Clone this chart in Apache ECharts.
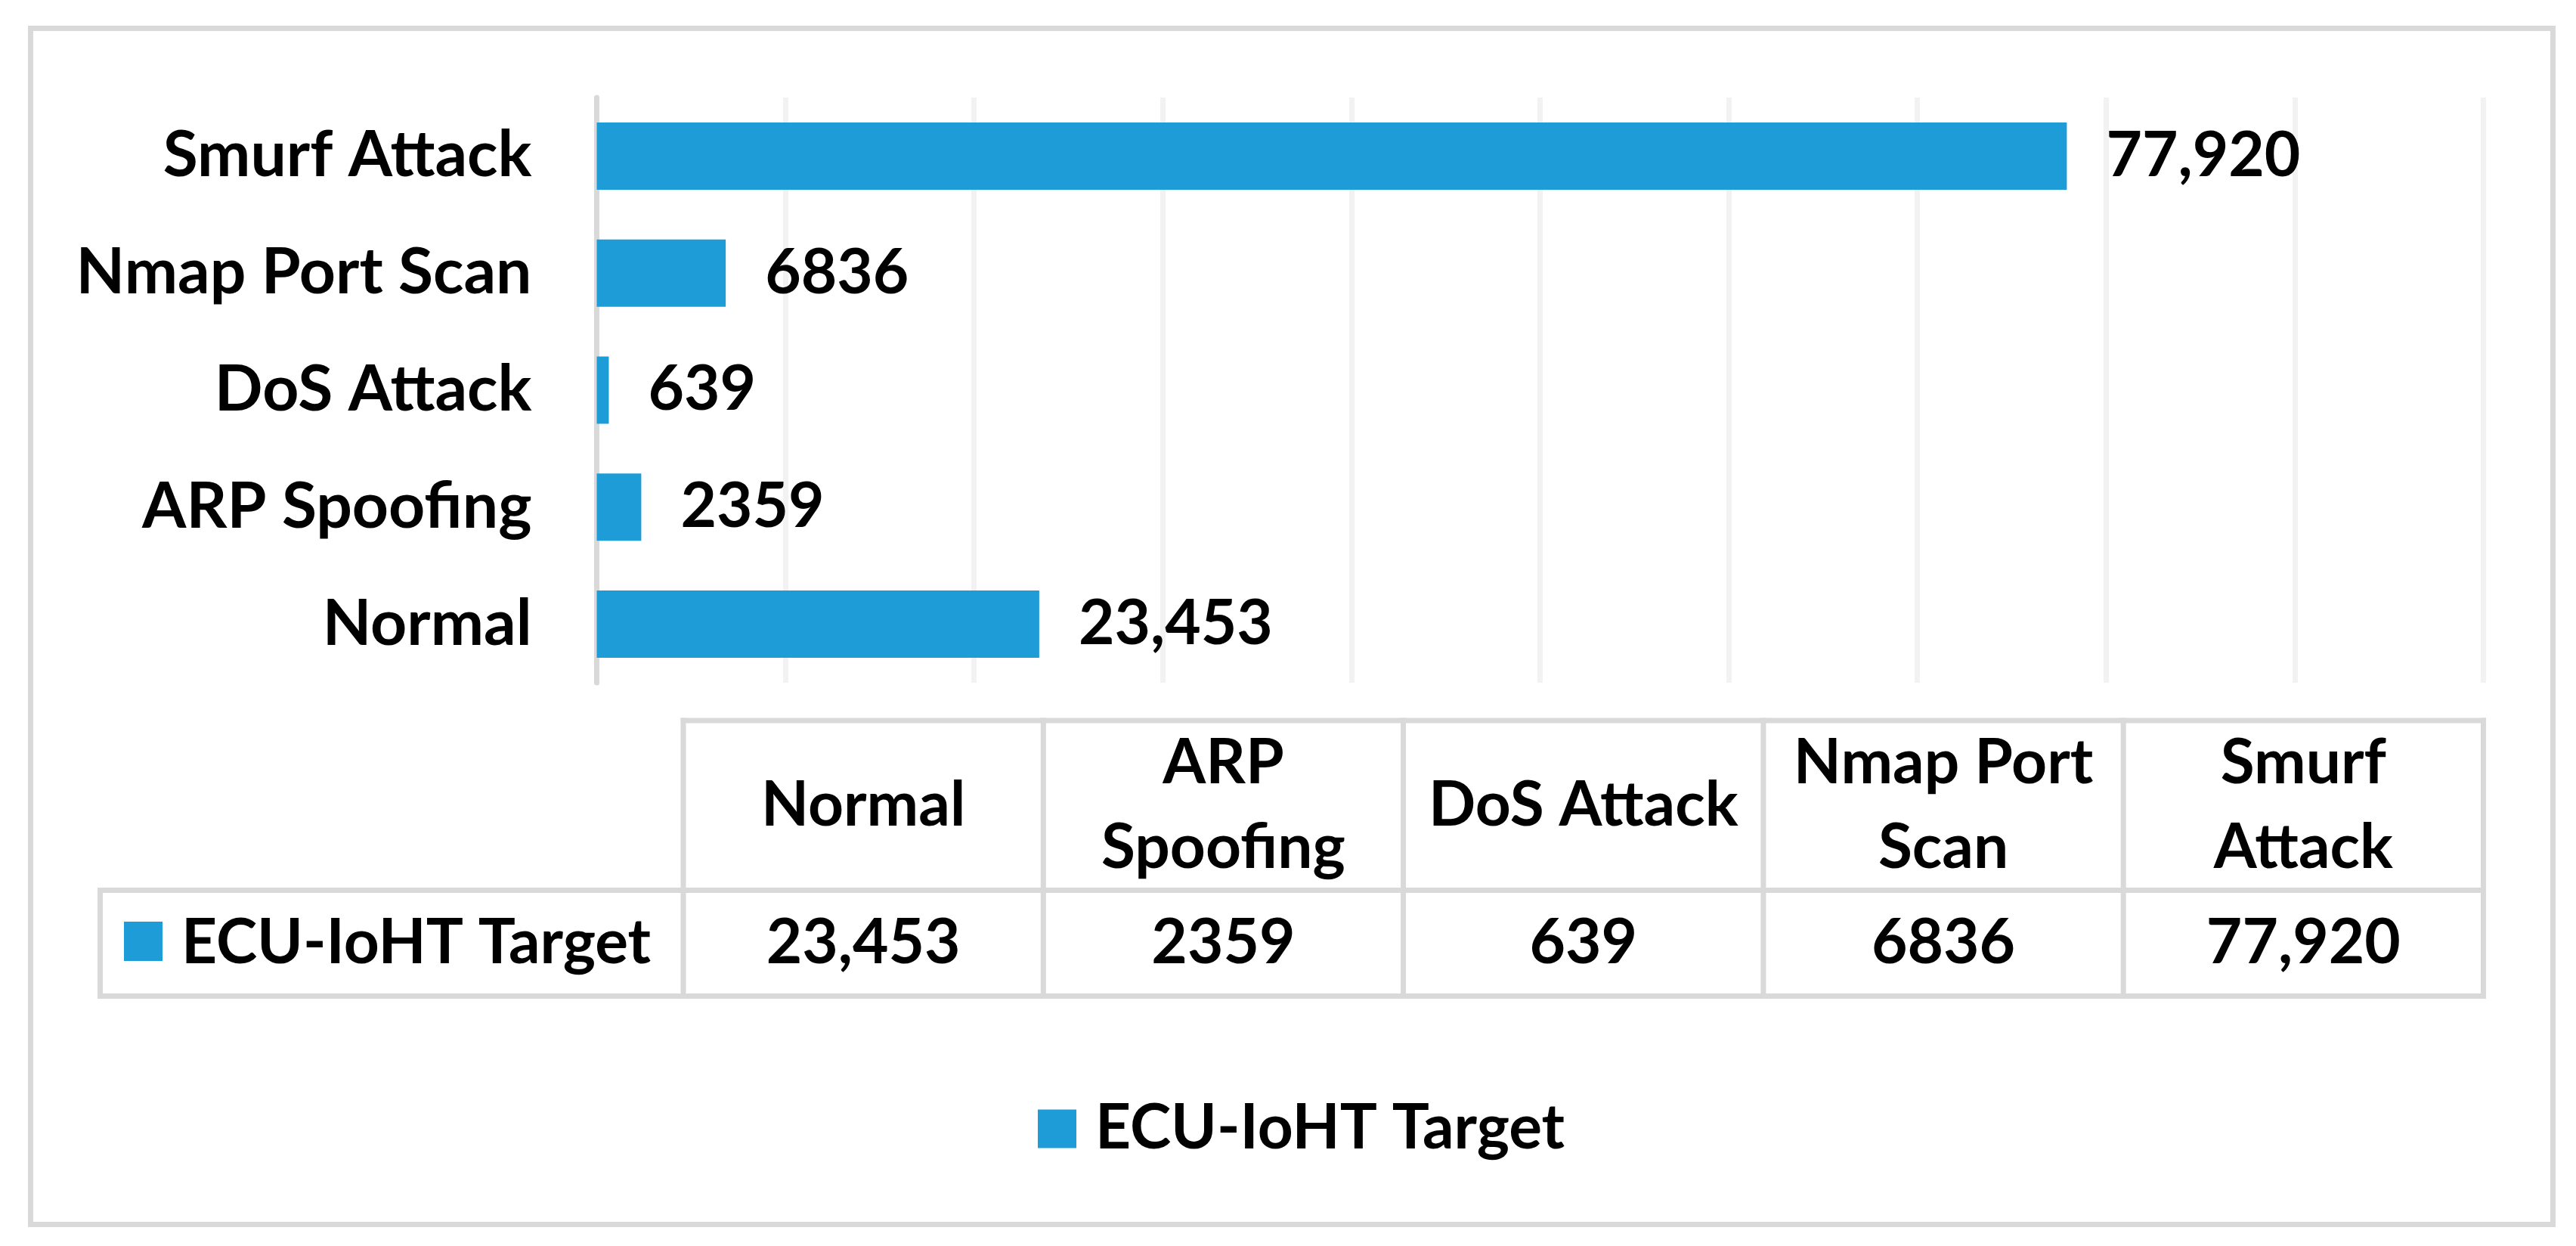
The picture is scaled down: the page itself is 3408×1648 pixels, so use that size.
<!DOCTYPE html>
<html>
<head>
<meta charset="utf-8">
<script src="https://cdn.jsdelivr.net/npm/echarts@6/dist/echarts.min.js"></script>
<style>
html,body{margin:0;padding:0;background:#fff;}
#main{width:3408px;height:1648px;}
</style>
</head>
<body>
<div id="main"></div>
<script>
// data
var categories = ['Normal', 'ARP Spoofing', 'DoS Attack', 'Nmap Port Scan', 'Smurf Attack'];
var values = [23453, 2359, 639, 6836, 77920];
// header cells wrap like the original table
var tableHeaders = ['Normal', 'ARP\nSpoofing', 'DoS Attack', 'Nmap Port\nScan', 'Smurf\nAttack'];
var seriesName = 'ECU-IoHT Target';
var xMin = 0, xMax = 100000, xStep = 10000;

var blue = '#1e9cd7';
var grey = '#d9d9d9';
var font = 'Lato';

// 4 digit numbers have no comma in the source
function fmt(v){
    return v >= 10000 ? v.toLocaleString('en-US') : String(v);
}

// table layout (px)
var tab = {left: 132.5, colLeft: 904, right: 3285.5, top: 953, mid: 1177.5, bottom: 1317.5};
var colW = (tab.right - tab.colLeft) / categories.length;

var g = [];
// outer frame
g.push({
    type: 'rect', silent: true,
    shape: {x: 40.5, y: 37.5, width: 3337, height: 1582},
    style: {fill: null, stroke: grey, lineWidth: 7}
});
function hline(x1, x2, y){
    g.push({type: 'line', silent: true, shape: {x1: x1 - 3.5, y1: y, x2: x2 + 3.5, y2: y}, style: {stroke: grey, lineWidth: 7}});
}
function vline(x, y1, y2){
    g.push({type: 'line', silent: true, shape: {x1: x, y1: y1 - 3.5, x2: x, y2: y2 + 3.5}, style: {stroke: grey, lineWidth: 7}});
}
function txt(s, x, y, align){
    g.push({
        type: 'text', silent: true,
        style: {
            text: s, x: x, y: y,
            fontSize: 82, fontWeight: 'bold', fontFamily: font, fill: '#000',
            lineHeight: 112,
            align: align, verticalAlign: 'middle',
            textAlign: align, textVerticalAlign: 'middle'
        }
    });
}
hline(tab.colLeft, tab.right, tab.top);
hline(tab.left, tab.right, tab.mid);
hline(tab.left, tab.right, tab.bottom);
vline(tab.left, tab.mid, tab.bottom);
for (var i = 0; i <= categories.length; i++) {
    vline(tab.colLeft + i * colW, tab.top, tab.bottom);
}
for (var j = 0; j < categories.length; j++) {
    var cx = tab.colLeft + (j + 0.5) * colW;
    txt(tableHeaders[j], cx, (tab.top + tab.mid) / 2, 'center');
    txt(fmt(values[j]), cx, (tab.mid + tab.bottom) / 2, 'center');
}
// legend key inside the table
g.push({type: 'rect', silent: true, shape: {x: 164, y: 1219, width: 51, height: 52}, style: {fill: blue}});
txt(seriesName, 240, (tab.mid + tab.bottom) / 2, 'left');

var chart = echarts.init(document.getElementById('main'));
chart.setOption({
    animation: false,
    backgroundColor: '#fff',
    grid: {left: 789.5, right: 122.5, top: 129, bottom: 745, containLabel: false},
    legend: {
        data: [seriesName],
        left: 1368, top: 1447,
        icon: 'rect', itemWidth: 51, itemHeight: 51,
        selectedMode: false,
        textStyle: {fontSize: 82, fontWeight: 'bold', fontFamily: font, color: '#000', lineHeight: 82, padding: [0, 0, 0, 20]}
    },
    xAxis: {
        type: 'value', min: xMin, max: xMax, interval: xStep,
        axisLabel: {show: false},
        axisLine: {show: false},
        axisTick: {show: false},
        splitLine: {show: true, lineStyle: {color: '#f2f2f2', width: 7}}
    },
    yAxis: {
        type: 'category', data: categories,
        axisLine: {show: true, lineStyle: {color: grey, width: 7}},
        axisTick: {show: false},
        axisLabel: {margin: 86, fontSize: 84, fontWeight: 'bold', fontFamily: font, color: '#000'}
    },
    series: [{
        name: seriesName,
        type: 'bar',
        data: values,
        barWidth: 89,
        itemStyle: {color: blue},
        label: {
            show: true, position: 'right', distance: 52,
            fontSize: 82, fontWeight: 'bold', fontFamily: font, color: '#000',
            formatter: function(p){ return fmt(p.value); }
        }
    }],
    graphic: g
});
</script>
</body>
</html>
